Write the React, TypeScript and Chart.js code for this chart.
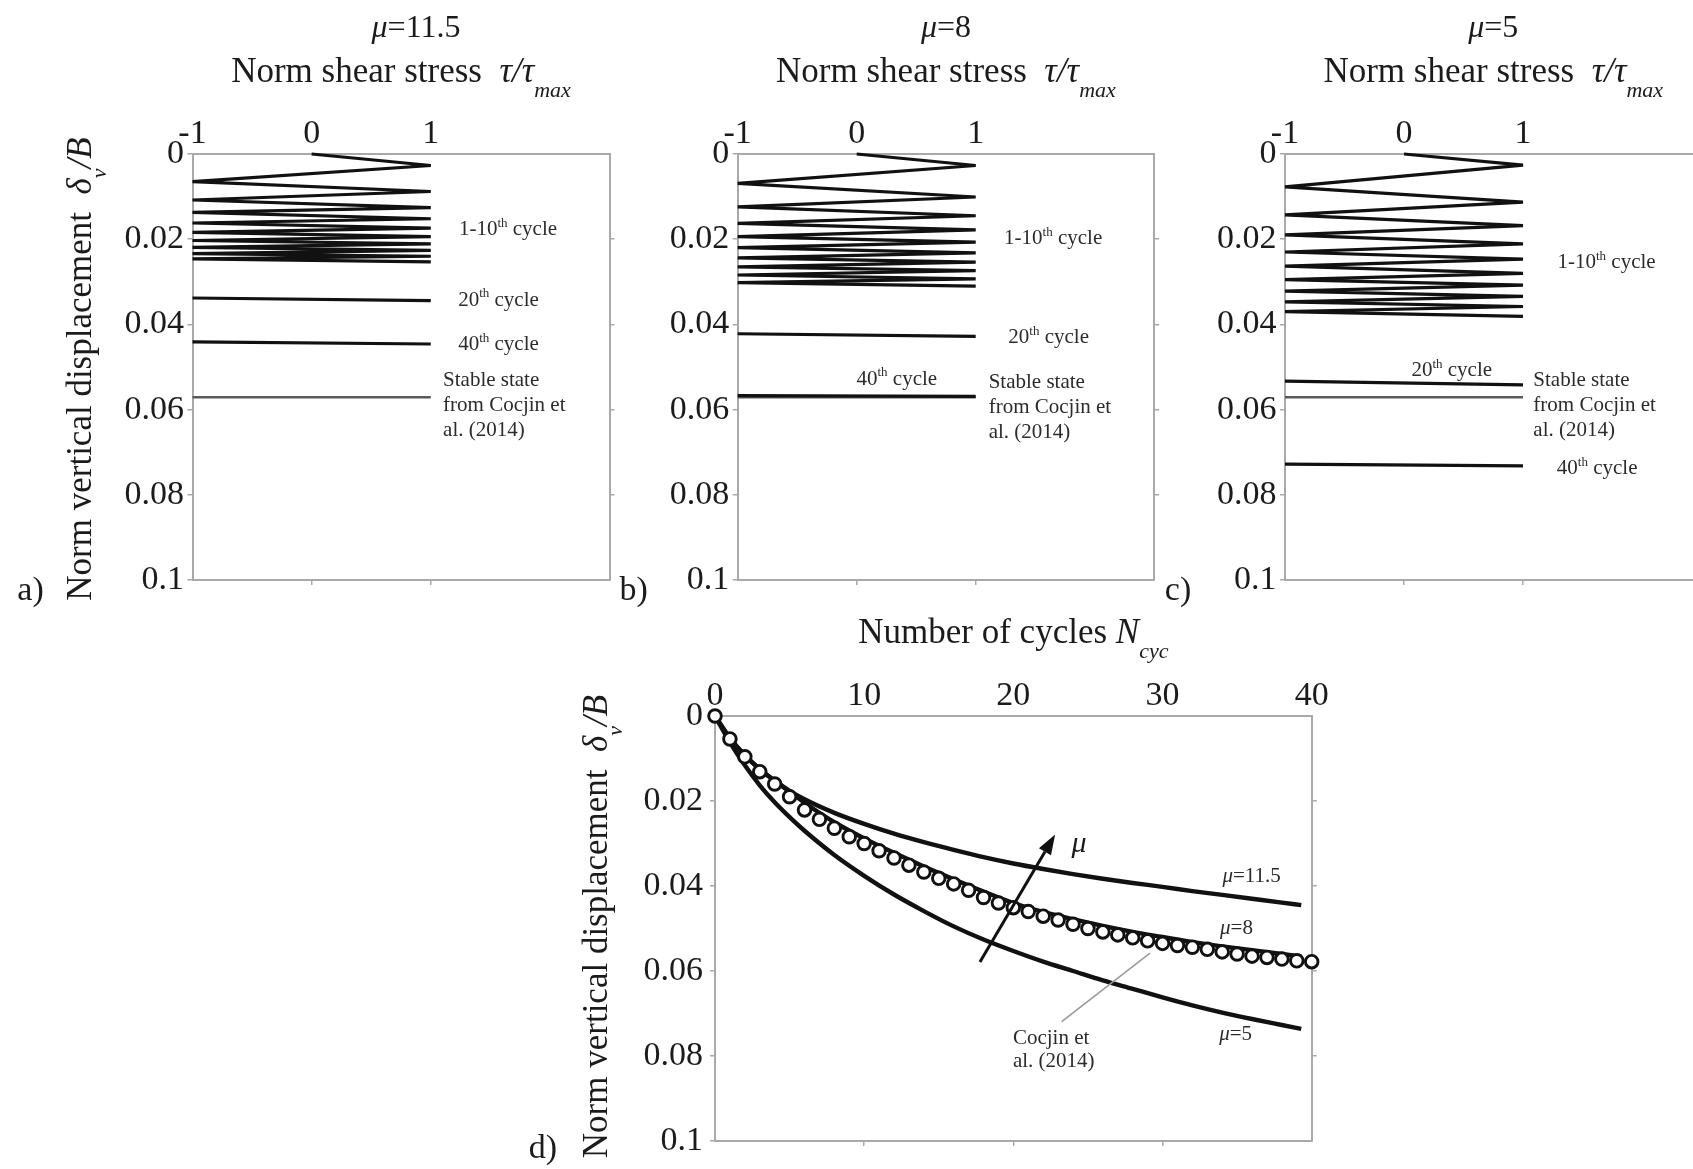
import React, { useEffect, useRef } from 'react';
import { Chart, registerables } from 'chart.js';

Chart.register(...registerables);

const FONT = '"Liberation Serif", "Times New Roman", serif';
const INK = '#1b1b1b';
const NOTE = '#2b2b2b';
const FRAME = '#a9a9a9';
const LINE = '#111111';
const STABLE = '#5a5a5a';
const LEADER = '#9a9a9a';

// ---- axis ticks ----
const shearTicks = [-1, 0, 1];
const shearTickLabels = ['-1', '0', '1'];
const shearBottomTicks = [0, 1];
const dispTicks = [0, 0.02, 0.04, 0.06, 0.08, 0.1];
const dispTickLabels = ['0', '0.02', '0.04', '0.06', '0.08', '0.1'];
const dispSideTicks = [0.02, 0.04, 0.06, 0.08];
const cycleTicks = [0, 10, 20, 30, 40];
const cycleTickLabels = ['0', '10', '20', '30', '40'];
const cycleBottomTicks = [10, 20, 30];

// ---- panels a–c: stress path turning points ----
const zigShear = [0, 1, -1, 1, -1, 1, -1, 1, -1, 1, -1, 1, -1, 1, -1, 1, -1, 1, -1, 1];
const endShear = [-1, 1];

// mu = 11.5
const dispA10 = [0, 0.0027, 0.0065, 0.0088, 0.0108, 0.0126, 0.0137, 0.0152, 0.0162, 0.0174, 0.0184, 0.0194, 0.0203, 0.0211, 0.0219, 0.0226, 0.0234, 0.024, 0.0246, 0.0253];
const dispA20 = [0.0338, 0.0344];
const dispA40 = [0.0441, 0.0446];
// mu = 8
const dispB10 = [0, 0.0027, 0.0069, 0.0101, 0.0124, 0.0145, 0.0163, 0.0178, 0.0194, 0.0207, 0.022, 0.0232, 0.0244, 0.0254, 0.0265, 0.0274, 0.0284, 0.0293, 0.0302, 0.031];
const dispB20 = [0.0422, 0.0428];
const dispB40 = [0.0567, 0.0569];
// mu = 5
const dispC10 = [0, 0.0026, 0.0077, 0.0113, 0.0143, 0.0168, 0.019, 0.0211, 0.023, 0.0247, 0.0263, 0.028, 0.0295, 0.0308, 0.0322, 0.0334, 0.0347, 0.0358, 0.037, 0.0381];
const dispC20 = [0.0533, 0.0542];
const dispC40 = [0.0728, 0.0732];
// stable state from Cocjin et al. (2014)
const dispStable = [0.0571, 0.0571];

// ---- panel d: settlement vs number of cycles ----
const curveCycles = [0, 1, 2, 3, 4, 5, 6, 8, 10, 12, 14, 16, 18, 20, 22, 24, 26, 28, 30, 32, 34, 36, 38, 39.3];
const mu115Disp = [0, 0.0052, 0.0092, 0.0125, 0.0152, 0.0176, 0.0196, 0.0228, 0.0254, 0.0277, 0.0297, 0.0315, 0.0332, 0.0347, 0.036, 0.0372, 0.0383, 0.0393, 0.0402, 0.0412, 0.0421, 0.043, 0.0439, 0.0445];
const mu8Disp = [0, 0.0052, 0.0093, 0.0125, 0.0153, 0.0178, 0.0204, 0.025, 0.0288, 0.0322, 0.0354, 0.0384, 0.0413, 0.044, 0.0461, 0.0478, 0.0494, 0.0508, 0.052, 0.0532, 0.0542, 0.0551, 0.056, 0.0566];
const mu5Disp = [0, 0.0062, 0.0116, 0.0163, 0.0203, 0.0238, 0.027, 0.0327, 0.0376, 0.042, 0.0459, 0.0495, 0.0526, 0.0553, 0.0578, 0.06, 0.0622, 0.0642, 0.0662, 0.0681, 0.0698, 0.0713, 0.0727, 0.0736];
const cocjinCycles = [0, 1, 2, 3, 4, 5, 6, 7, 8, 9, 10, 11, 12, 13, 14, 15, 16, 17, 18, 19, 20, 21, 22, 23, 24, 25, 26, 27, 28, 29, 30, 31, 32, 33, 34, 35, 36, 37, 38, 39, 40];
const cocjinDisp = [0, 0.0054, 0.0096, 0.0131, 0.016, 0.019, 0.0221, 0.0243, 0.0264, 0.0284, 0.03, 0.0317, 0.0334, 0.0351, 0.0367, 0.0382, 0.0395, 0.041, 0.0427, 0.044, 0.0451, 0.046, 0.0471, 0.048, 0.049, 0.05, 0.0508, 0.0515, 0.0522, 0.0529, 0.0535, 0.054, 0.0544, 0.0549, 0.0555, 0.056, 0.0565, 0.0568, 0.0572, 0.0576, 0.0578];
// arrow showing increasing mu, and leader to the Cocjin label
const muArrowCycles = [17.76, 22.8];
const muArrowDisp = [0.0579, 0.0279];
const leaderCycles = [23.24, 29.16];
const leaderDisp = [0.0719, 0.0558];

const pts = (xs: number[], ys: number[]) => xs.map((x, i) => ({ x, y: ys[i] }));

// ---- rich text drawing (italics, sub/superscripts) ----
type Run = { t: string; it?: boolean; sub?: boolean; sup?: boolean };
type Label = {
  runs: Run[];
  size: number;
  align: 'left' | 'center' | 'right';
  color?: string;
  rotate?: number;
  at: (c: any) => [number, number];
};

function drawRich(ctx: CanvasRenderingContext2D, l: Label, x: number, y: number) {
  const size = l.size;
  const fontFor = (r: Run) =>
    `${r.it ? 'italic ' : ''}${r.sub || r.sup ? Math.round(size * 0.62) : size}px ${FONT}`;
  ctx.save();
  ctx.translate(x, y);
  if (l.rotate) ctx.rotate(l.rotate);
  let total = 0;
  const widths = l.runs.map((r) => {
    ctx.font = fontFor(r);
    const w = ctx.measureText(r.t).width;
    total += w;
    return w;
  });
  let cx = l.align === 'left' ? 0 : l.align === 'center' ? -total / 2 : -total;
  ctx.fillStyle = l.color ?? INK;
  ctx.textBaseline = 'alphabetic';
  ctx.textAlign = 'left';
  const base = size * 0.34;
  l.runs.forEach((r, i) => {
    ctx.font = fontFor(r);
    const dy = r.sub ? size * 0.42 : r.sup ? -size * 0.4 : 0;
    ctx.fillText(r.t, cx, base + dy);
    cx += widths[i];
  });
  ctx.restore();
}

const atData = (x: number, y: number) => (c: any): [number, number] => [
  c.scales.x.getPixelForValue(x),
  c.scales.y.getPixelForValue(y),
];
const atArea = (fx: number, dx: number, fy: number, dy: number) => (c: any): [number, number] => {
  const a = c.chartArea;
  return [a.left + fx * (a.right - a.left) + dx, a.top + fy * (a.bottom - a.top) + dy];
};

const labelsPlugin = (labels: Label[]) => ({
  id: 'richLabels',
  afterDraw(chart: any) {
    const ctx = chart.ctx;
    labels.forEach((l) => {
      const [x, y] = l.at(chart);
      drawRich(ctx, l, x, y);
    });
  },
});

// ---- framed axes: labelled top/left, plain bottom/right ----
type Frame = {
  xMin: number; xMax: number; xTicks: number[]; xLabels: string[]; xBottom: number[];
  yW: number; y2W: number; xH: number; x2H: number; yGap: number;
};

function frameScales(o: Frame) {
  const tickFont = { family: FONT, size: 34 };
  const edge = { display: true, color: FRAME, width: 2 };
  const setTicks = (vals: number[]) => (s: any) => {
    s.ticks = vals.map((v) => ({ value: v }));
  };
  const side = { drawOnChartArea: false, drawTicks: true, tickLength: 5, color: FRAME, lineWidth: 1.5 };
  return {
    x: {
      type: 'linear', position: 'top', min: o.xMin, max: o.xMax,
      afterBuildTicks: setTicks(o.xTicks),
      ticks: { callback: (_v: any, i: number) => o.xLabels[i], font: tickFont, color: INK, padding: 0, maxRotation: 0, autoSkip: false },
      grid: { drawOnChartArea: false, drawTicks: false },
      border: edge,
      afterFit: (s: any) => { s.height = o.xH; },
    },
    x2: {
      type: 'linear', axis: 'x', position: 'bottom', min: o.xMin, max: o.xMax,
      afterBuildTicks: setTicks(o.xBottom),
      ticks: { display: false },
      grid: side,
      border: edge,
      afterFit: (s: any) => { s.height = o.x2H; },
    },
    y: {
      type: 'linear', position: 'left', reverse: true, min: 0, max: 0.1,
      afterBuildTicks: setTicks(dispTicks),
      ticks: { callback: (_v: any, i: number) => dispTickLabels[i], font: tickFont, color: INK, padding: o.yGap - 5, autoSkip: false },
      grid: side,
      border: edge,
      afterFit: (s: any) => { s.width = o.yW; },
    },
    y2: {
      type: 'linear', axis: 'y', position: 'right', reverse: true, min: 0, max: 0.1,
      afterBuildTicks: setTicks(dispSideTicks),
      ticks: { display: false },
      grid: side,
      border: edge,
      afterFit: (s: any) => { s.width = o.y2W; },
    },
  };
}

type Box = { x: number; y: number; w: number; h: number };
type Pad = { left: number; right: number; top: number; bottom: number };

const yTitle = (dx: number, dy: number): Label => ({
  runs: [{ t: 'Norm vertical displacement  ' }, { t: 'δ', it: true }, { t: 'v', it: true, sub: true }, { t: '/B', it: true }],
  size: 35, align: 'center', rotate: -Math.PI / 2, at: atArea(0, dx, 0.5, dy),
});

const cycleNote = (n: string, x: number, y: number, align: 'left' | 'center' = 'center'): Label => ({
  runs: [{ t: n }, { t: 'th', sup: true }, { t: ' cycle' }],
  size: 21, align, color: NOTE, at: atData(x, y),
});

const stableNotes = (x: number, y0: number): Label[] =>
  ['Stable state', 'from Cocjin et', 'al. (2014)'].map((t, i) => ({
    runs: [{ t }], size: 21, align: 'left' as const, color: NOTE, at: atData(x, y0 + i * 0.0059),
  }));

type ShearPanel = {
  box: Box; pad: Pad; frame: Frame;
  mu: string; muDx: number; letter: string; letterDx: number; withYTitle: boolean;
  d10: number[]; d20: number[]; d40: number[];
  notes: Label[];
};

function makeShear(canvas: HTMLCanvasElement, p: ShearPanel) {
  const labels: Label[] = [
    { runs: [{ t: 'μ', it: true }, { t: '=' + p.mu }], size: 32, align: 'center', at: atArea(0.5, p.muDx, 0, -128) },
    { runs: [{ t: 'Norm shear stress  ' }, { t: 'τ/τ', it: true }, { t: 'max', it: true, sub: true }], size: 35, align: 'center', at: atArea(0.5, 0, 0, -84) },
    { runs: [{ t: p.letter }], size: 34, align: 'center', at: atArea(0, -p.letterDx, 1, 8) },
    ...(p.withYTitle ? [yTitle(-113.5, 2)] : []),
    ...p.notes,
  ];
  const lineDs = (data: any[], color: string, width: number) => ({
    data, showLine: true, borderColor: color, borderWidth: width, pointRadius: 0,
    tension: 0, clip: false, borderJoinStyle: 'miter',
  });
  return new Chart(canvas, {
    type: 'scatter',
    data: {
      datasets: [
        lineDs(pts(zigShear, p.d10), LINE, 3.2),
        lineDs(pts(endShear, p.d20), LINE, 3.2),
        lineDs(pts(endShear, p.d40), LINE, 3.2),
        lineDs(pts(endShear, dispStable), STABLE, 2.6),
      ],
    },
    options: {
      responsive: false, animation: false, devicePixelRatio: 1, maintainAspectRatio: false,
      layout: { padding: p.pad },
      plugins: { legend: { display: false }, tooltip: { enabled: false } },
      scales: frameScales(p.frame) as any,
    },
    plugins: [labelsPlugin(labels)],
  } as any);
}

function makeCycles(canvas: HTMLCanvasElement, box: Box, pad: Pad, frame: Frame) {
  const labels: Label[] = [
    { runs: [{ t: 'Number of cycles ' }, { t: 'N', it: true }, { t: 'cyc', it: true, sub: true }], size: 35, align: 'center', at: atArea(0.5, 0, 0, -85) },
    yTitle(-120, -2),
    { runs: [{ t: 'd)' }], size: 34, align: 'center', at: atArea(0, -172, 1, 5) },
    { runs: [{ t: 'μ', it: true }, { t: '=11.5' }], size: 21, align: 'center', color: NOTE, at: atData(35.97, 0.0374) },
    { runs: [{ t: 'μ', it: true }, { t: '=8' }], size: 21, align: 'center', color: NOTE, at: atData(34.96, 0.0496) },
    { runs: [{ t: 'μ', it: true }, { t: '=5' }], size: 21, align: 'center', color: NOTE, at: atData(34.9, 0.0746) },
    { runs: [{ t: 'Cocjin et' }], size: 21, align: 'left', color: NOTE, at: atData(19.97, 0.0755) },
    { runs: [{ t: 'al. (2014)' }], size: 21, align: 'left', color: NOTE, at: atData(19.97, 0.0809) },
    { runs: [{ t: 'μ', it: true }], size: 30, align: 'center', at: atData(24.4, 0.0296) },
  ];
  const guides = {
    id: 'guides',
    afterDraw(chart: any) {
      const ctx = chart.ctx;
      const sx = chart.scales.x;
      const sy = chart.scales.y;
      // leader from the Cocjin label to the data
      ctx.save();
      ctx.strokeStyle = LEADER;
      ctx.lineWidth = 1.6;
      ctx.beginPath();
      ctx.moveTo(sx.getPixelForValue(leaderCycles[0]), sy.getPixelForValue(leaderDisp[0]));
      ctx.lineTo(sx.getPixelForValue(leaderCycles[1]), sy.getPixelForValue(leaderDisp[1]));
      ctx.stroke();
      // arrow of increasing mu
      const x0 = sx.getPixelForValue(muArrowCycles[0]);
      const y0 = sy.getPixelForValue(muArrowDisp[0]);
      const x1 = sx.getPixelForValue(muArrowCycles[1]);
      const y1 = sy.getPixelForValue(muArrowDisp[1]);
      const ang = Math.atan2(y1 - y0, x1 - x0);
      const head = 20;
      const half = 7;
      const bx = x1 - head * Math.cos(ang);
      const by = y1 - head * Math.sin(ang);
      ctx.strokeStyle = LINE;
      ctx.fillStyle = LINE;
      ctx.lineWidth = 3;
      ctx.beginPath();
      ctx.moveTo(x0, y0);
      ctx.lineTo(bx, by);
      ctx.stroke();
      ctx.beginPath();
      ctx.moveTo(x1, y1);
      ctx.lineTo(bx + half * Math.sin(ang), by - half * Math.cos(ang));
      ctx.lineTo(bx - half * Math.sin(ang), by + half * Math.cos(ang));
      ctx.closePath();
      ctx.fill();
      ctx.restore();
    },
  };
  const curve = (ys: number[]) => ({
    data: pts(curveCycles, ys), showLine: true, borderColor: LINE, borderWidth: 4.4,
    pointRadius: 0, cubicInterpolationMode: 'monotone', order: 1, clip: false,
  });
  return new Chart(canvas, {
    type: 'scatter',
    data: {
      datasets: [
        {
          data: pts(cocjinCycles, cocjinDisp), showLine: false, pointRadius: 6.3, pointBorderWidth: 2.9,
          pointBorderColor: LINE, pointBackgroundColor: '#ffffff', order: 0, clip: false,
        },
        curve(mu115Disp),
        curve(mu8Disp),
        curve(mu5Disp),
      ],
    },
    options: {
      responsive: false, animation: false, devicePixelRatio: 1, maintainAspectRatio: false,
      layout: { padding: pad },
      plugins: { legend: { display: false }, tooltip: { enabled: false } },
      scales: frameScales(frame) as any,
    },
    plugins: [guides, labelsPlugin(labels)],
  } as any);
}

function ChartCanvas({ box, make }: { box: Box; make: (c: HTMLCanvasElement) => Chart }) {
  const ref = useRef<HTMLCanvasElement>(null);
  useEffect(() => {
    const chart = make(ref.current as HTMLCanvasElement);
    return () => chart.destroy();
  }, []);
  return (
    <canvas
      ref={ref}
      width={box.w}
      height={box.h}
      style={{ position: 'absolute', left: box.x, top: box.y, width: box.w, height: box.h }}
    />
  );
}

const shearFrame = (yW: number, y2W: number): Frame => ({
  xMin: -1, xMax: 2.5, xTicks: shearTicks, xLabels: shearTickLabels, xBottom: shearBottomTicks,
  yW, y2W, xH: 54, x2H: 20, yGap: 8.5,
});

const panelA: ShearPanel = {
  box: { x: 0, y: 0, w: 640, h: 620 },
  pad: { left: 100, right: 20, top: 100, bottom: 20 },
  frame: shearFrame(92.5, 10.5),
  mu: '11.5', muDx: 15, letter: 'a)', letterDx: 162, withYTitle: true,
  d10: dispA10, d20: dispA20, d40: dispA40,
  notes: [
    cycleNote('1-10', 1.648, 0.0174),
    cycleNote('20', 1.568, 0.0339),
    cycleNote('40', 1.568, 0.0444),
    ...stableNotes(1.103, 0.0528),
  ],
};

const panelB: ShearPanel = {
  box: { x: 600, y: 0, w: 580, h: 620 },
  pad: { left: 40, right: 15, top: 100, bottom: 20 },
  frame: shearFrame(97.7, 10.8),
  mu: '8', muDx: 0, letter: 'b)', letterDx: 104, withYTitle: false,
  d10: dispB10, d20: dispB20, d40: dispB40,
  notes: [
    cycleNote('1-10', 1.651, 0.0195),
    cycleNote('20', 1.613, 0.0427),
    cycleNote('40', 0.337, 0.0525),
    ...stableNotes(1.109, 0.0533),
  ],
};

const panelC: ShearPanel = {
  box: { x: 1150, y: 0, w: 560, h: 620 },
  pad: { left: 40, right: 0, top: 100, bottom: 20 },
  frame: shearFrame(95, 8.5),
  mu: '5', muDx: 0, letter: 'c)', letterDx: 107, withYTitle: false,
  d10: dispC10, d20: dispC20, d40: dispC40,
  notes: [
    cycleNote('1-10', 1.702, 0.0251),
    cycleNote('20', 0.401, 0.0505),
    ...stableNotes(1.087, 0.0528),
    cycleNote('40', 1.623, 0.0735),
  ],
};

const boxD: Box = { x: 480, y: 600, w: 880, h: 569 };
const padD: Pad = { left: 150, right: 38, top: 60, bottom: 8 };
const frameD: Frame = {
  xMin: 0, xMax: 40, xTicks: cycleTicks, xLabels: cycleTickLabels, xBottom: cycleBottomTicks,
  yW: 85, y2W: 10.3, xH: 56, x2H: 20, yGap: 12,
};

export default function App() {
  return (
    <div
      style={{
        position: 'absolute', left: 0, top: 0, width: 1693, height: 1169,
        overflow: 'hidden', background: '#ffffff',
      }}
    >
      <ChartCanvas box={panelA.box} make={(c) => makeShear(c, panelA)} />
      <ChartCanvas box={panelB.box} make={(c) => makeShear(c, panelB)} />
      <ChartCanvas box={panelC.box} make={(c) => makeShear(c, panelC)} />
      <ChartCanvas box={boxD} make={(c) => makeCycles(c, boxD, padD, frameD)} />
    </div>
  );
}
